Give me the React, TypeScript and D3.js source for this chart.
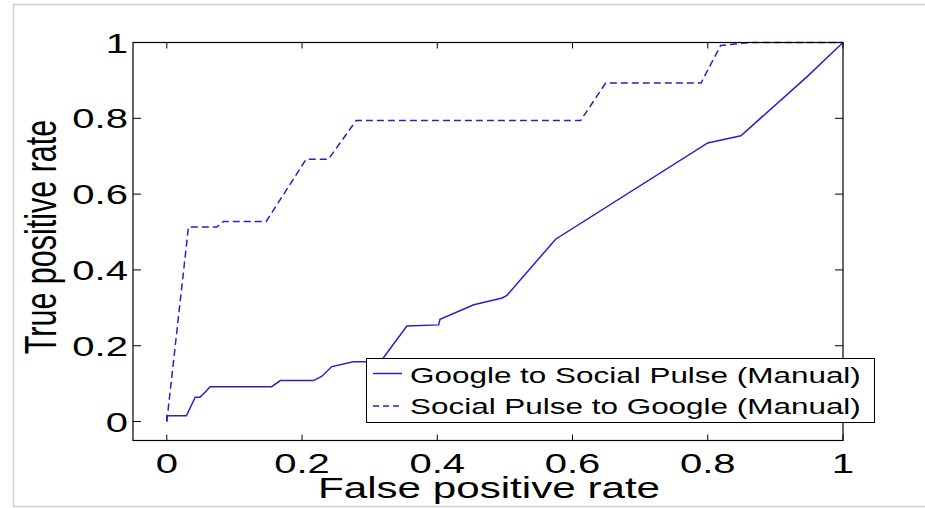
import React from "react";
import * as d3 from "d3";

const xTicks = [0, 0.2, 0.4, 0.6, 0.8, 1];
const yTicks = [0, 0.2, 0.4, 0.6, 0.8, 1];
const xTickLabels = ["0", "0.2", "0.4", "0.6", "0.8", "1"];
const yTickLabels = ["0", "0.2", "0.4", "0.6", "0.8", "1"];

const seriesNames = [
  "Google to Social Pulse (Manual)",
  "Social Pulse to Google (Manual)",
];

// Google to Social Pulse (solid)
const solidFPR = [0, 0, 0.029, 0.042, 0.049, 0.058, 0.064, 0.155, 0.168, 0.217, 0.229, 0.244, 0.276, 0.316, 0.355, 0.402, 0.404, 0.454, 0.496, 0.503, 0.575, 0.8, 0.849, 0.947, 1];
const solidTPR = [0, 0.015, 0.015, 0.064, 0.064, 0.08, 0.092, 0.092, 0.108, 0.108, 0.119, 0.145, 0.158, 0.158, 0.252, 0.255, 0.27, 0.308, 0.326, 0.333, 0.481, 0.735, 0.754, 0.91, 1];

// Social Pulse to Google (dashed)
const dashedFPR = [0, 0.032, 0.074, 0.084, 0.147, 0.206, 0.239, 0.28, 0.612, 0.649, 0.79, 0.819, 0.844, 0.863, 1];
const dashedTPR = [0, 0.513, 0.513, 0.528, 0.528, 0.692, 0.692, 0.794, 0.794, 0.893, 0.893, 0.992, 0.997, 1, 1];

const W = 925;
const H = 508;
const SX = 1.43;
const FONT = "'Liberation Sans', Arial, Helvetica, sans-serif";
const LINE = "#2323c8";

function SText(props: any) {
  const { x, y, size, anchor, rotate, children } = props;
  const t = `translate(${x},${y}) scale(${SX},1)` + (rotate ? ` rotate(${rotate})` : "");
  return (
    <text transform={t} fontSize={size} textAnchor={anchor || "start"} fontFamily={FONT} fill="#000">
      {children}
    </text>
  );
}

export default function App() {
  const x = d3.scaleLinear().domain([-0.05, 1]).range([133, 843]);
  const y = d3.scaleLinear().domain([-0.05, 1]).range([440.5, 42.5]);
  const line = d3
    .line<[number, number]>()
    .x((d) => x(d[0]))
    .y((d) => y(d[1]));
  const solid = solidFPR.map((v, i) => [v, solidTPR[i]] as [number, number]);
  const dashed = dashedFPR.map((v, i) => [v, dashedTPR[i]] as [number, number]);

  const x0 = x(-0.05), x1 = x(1), y0 = y(-0.05), y1 = y(1);

  return (
    <svg width={W} height={H} style={{ position: "absolute", left: 0, top: 0, background: "#fff" }}>
      <rect x={0} y={0} width={W} height={H} fill="#fff" />
      <rect x={13.5} y={4.5} width={1000} height={502} fill="none" stroke="#cfcfcf" strokeWidth={1.5} />

      {/* curves */}
      <path d={line(solid) || ""} fill="none" stroke={LINE} strokeWidth={1.5} />
      <path d={line(dashed) || ""} fill="none" stroke={LINE} strokeWidth={1.5} strokeDasharray="7,4" />

      {/* axes box */}
      <rect x={x0} y={y1} width={x1 - x0} height={y0 - y1} fill="none" stroke="#000" strokeWidth={1.2} />
      {xTicks.map((t, i) => (
        <g key={"xt" + i}>
          <line x1={x(t)} x2={x(t)} y1={y0} y2={y0 - 6} stroke="#000" strokeWidth={1} />
          <line x1={x(t)} x2={x(t)} y1={y1} y2={y1 + 6} stroke="#000" strokeWidth={1} />
          <SText x={x(t)} y={473} size={28} anchor="middle">{xTickLabels[i]}</SText>
        </g>
      ))}
      {yTicks.map((t, i) => (
        <g key={"yt" + i}>
          <line x1={x0} x2={x0 + 8} y1={y(t)} y2={y(t)} stroke="#000" strokeWidth={1} />
          <line x1={x1} x2={x1 - 8} y1={y(t)} y2={y(t)} stroke="#000" strokeWidth={1} />
          <SText x={128} y={y(t) + 10} size={28} anchor="end">{yTickLabels[i]}</SText>
        </g>
      ))}

      {/* axis labels */}
      <SText x={489} y={498} size={29.5} anchor="middle">False positive rate</SText>
      <text
        transform={`translate(56,237) scale(${SX},1) rotate(-90)`}
        fontSize={30.5}
        textAnchor="middle"
        fontFamily={FONT}
        fill="#000"
      >
        True positive rate
      </text>

      {/* legend */}
      <rect x={366.5} y={358.5} width={508} height={64} fill="#fff" stroke="#000" strokeWidth={1} />
      <line x1={373} x2={402} y1={373.5} y2={373.5} stroke={LINE} strokeWidth={1.5} />
      <line x1={373} x2={402} y1={406} y2={406} stroke={LINE} strokeWidth={1.5} strokeDasharray="6,4" />
      <SText x={410} y={383} size={22} anchor="start">{seriesNames[0]}</SText>
      <SText x={410} y={414} size={22} anchor="start">{seriesNames[1]}</SText>
    </svg>
  );
}
